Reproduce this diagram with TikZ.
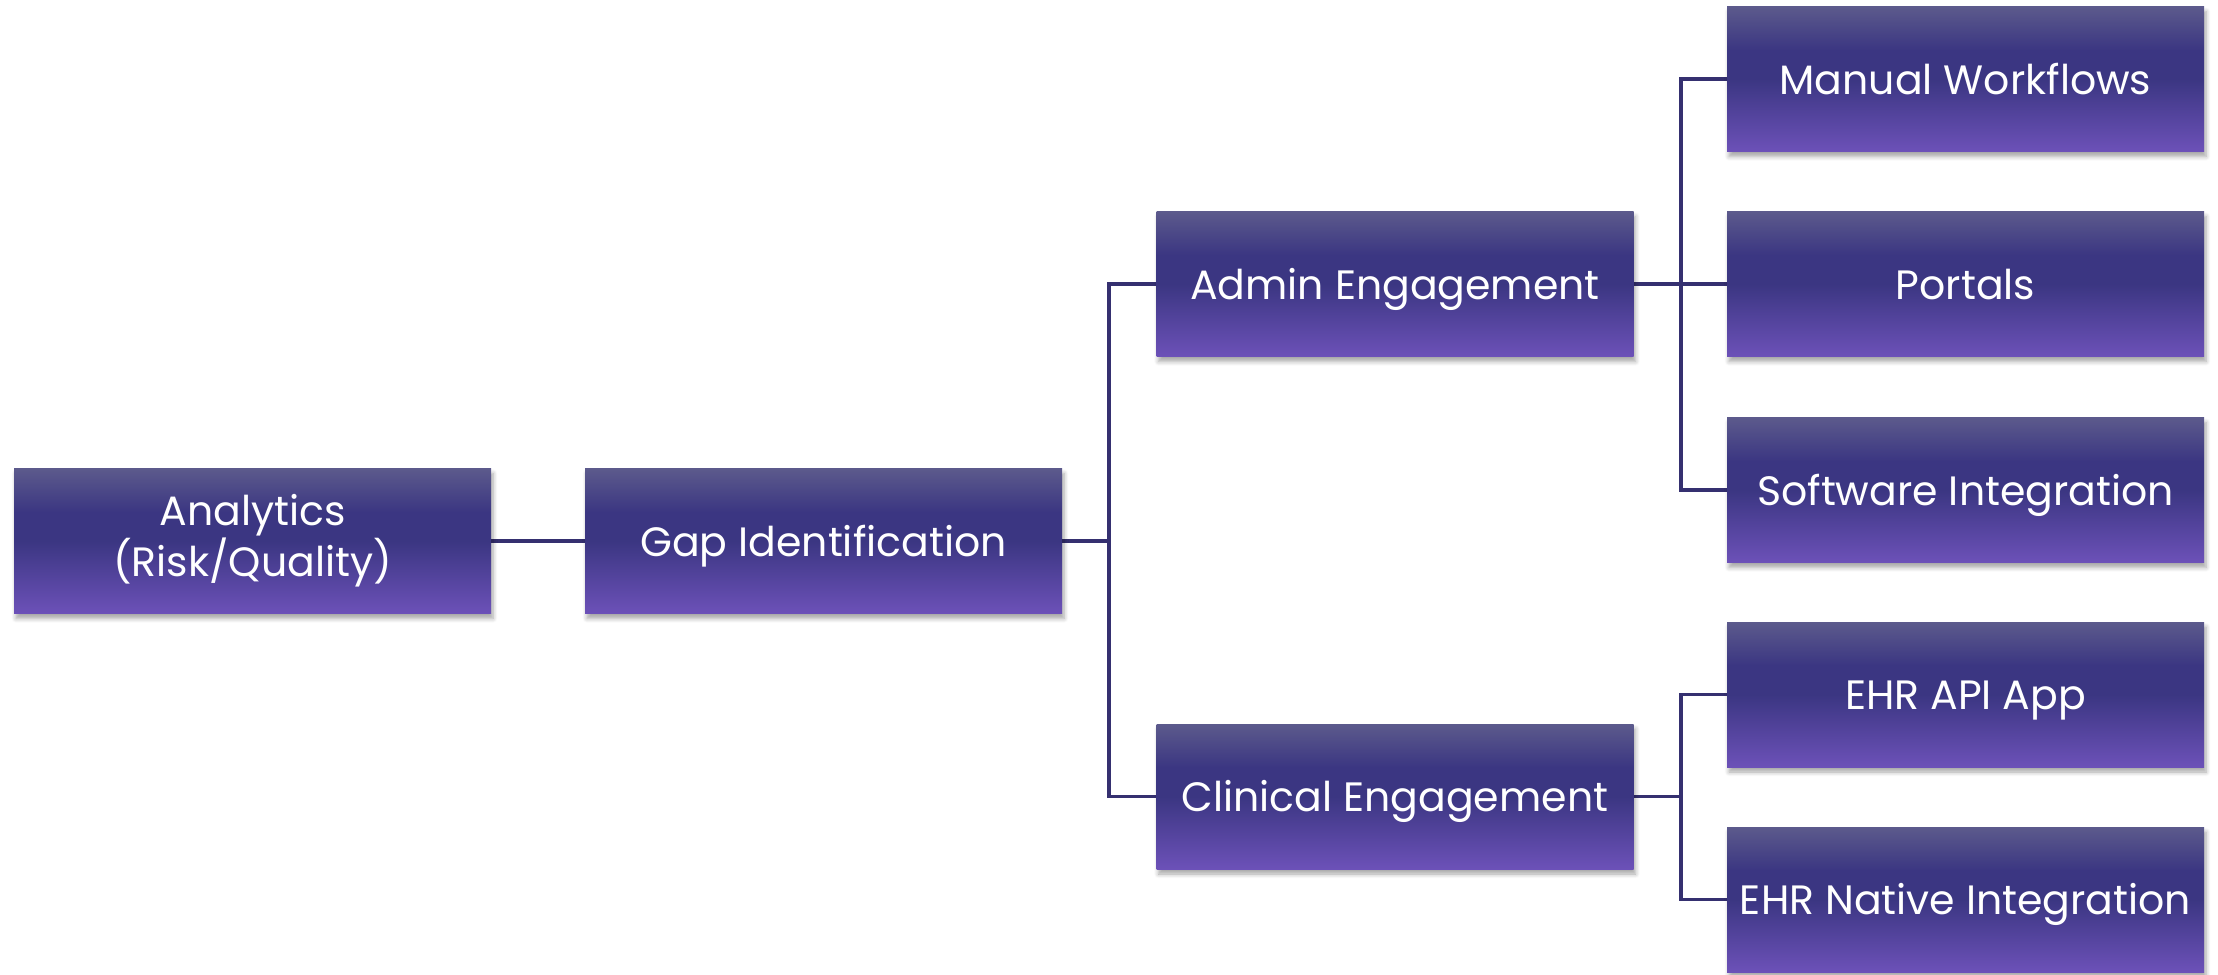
\documentclass[tikz,border=0pt]{standalone}
\usepackage{fontspec}
\setmainfont{Poppins}
\usetikzlibrary{shadows,shadows.blur}
\definecolor{topc}{HTML}{5C5A8C}
\definecolor{midc}{HTML}{3B3682}
\definecolor{botc}{HTML}{6C51B8}
\definecolor{linec}{HTML}{353070}
\pgfdeclareverticalshading{boxshade}{100bp}{color(0bp)=(botc); color(25bp)=(botc); color(50bp)=(midc); color(60bp)=(midc); color(75bp)=(topc); color(100bp)=(topc)}
\pgfdeclarelayer{bg}
\pgfsetlayers{bg,main}
\tikzset{
  box/.style={shading=boxshade, minimum width=238.5pt, minimum height=72.5pt,
    inner sep=0pt, text=white, align=center,
    font=\fontsize{20.5}{24}\selectfont,
    blur shadow={shadow xshift=1pt, shadow yshift=-2.5pt, shadow blur steps=6, shadow opacity=35}},
  onebox/.style={box, text height=15pt, text depth=0pt},
  conn/.style={draw=linec, line width=1.6pt}
}
\begin{document}
\begin{tikzpicture}[x=0.5pt,y=-0.5pt]
\useasboundingbox (0,0) rectangle (2218,975);
% boxes
\node[box] (ana) at (252.5,541) {Analytics\\(Risk/Quality)};
\node[onebox] (gap) at (823.5,541) {Gap Identification};
\node[onebox] (adm) at (1395,284) {Admin Engagement};
\node[onebox] (cli) at (1395,796.5) {Clinical Engagement};
\node[onebox] (man) at (1965.5,79) {Manual Workflows};
\node[onebox] (por) at (1965.5,284) {Portals};
\node[onebox] (sof) at (1965.5,490) {Software Integration};
\node[onebox] (api) at (1965.5,694.5) {EHR API App};
\node[onebox] (nat) at (1965.5,899.5) {EHR Native Integration};
% junction columns
\coordinate (j1) at (1109,0);
\coordinate (j2) at (1681,0);
% connectors
\begin{pgfonlayer}{bg}
\draw[conn] (ana.east) -- (gap.west);
\draw[conn] (gap.east) -- (j1 |- gap.east);
\draw[conn] (adm.west) -- (j1 |- adm.west) |- (cli.west);
\draw[conn] (adm.east) -- (por.west);
\draw[conn] (man.west) -- (j2 |- man.west) |- (sof.west);
\draw[conn] (cli.east) -- (j2 |- cli.east);
\draw[conn] (api.west) -- (j2 |- api.west) |- (nat.west);
\end{pgfonlayer}
\end{tikzpicture}
\end{document}
